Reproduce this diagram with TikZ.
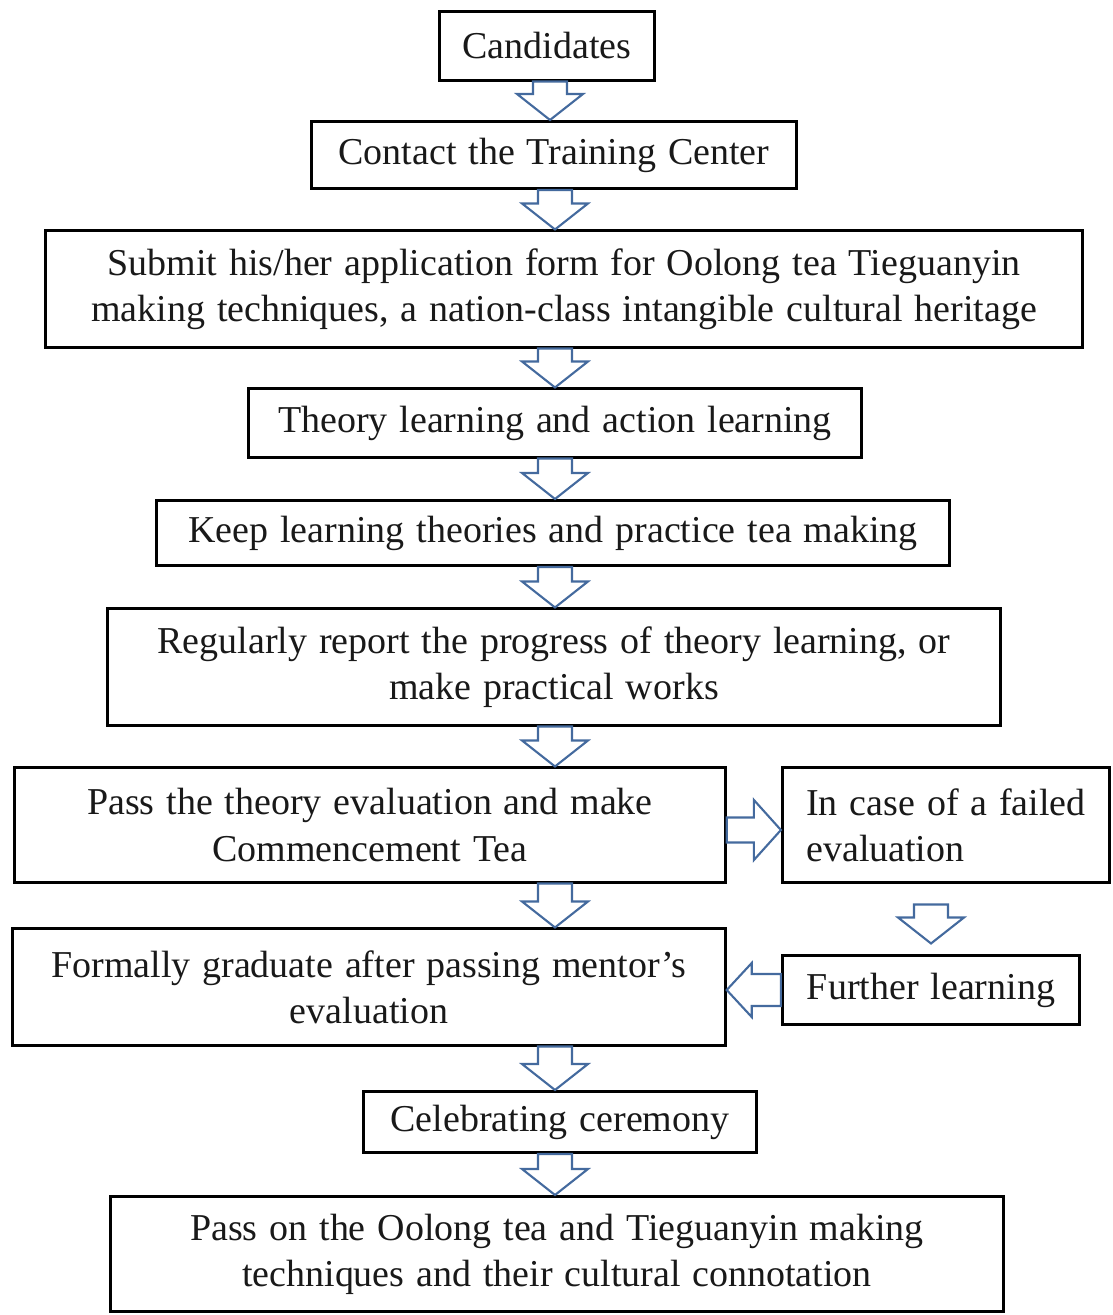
\documentclass[tikz,border=0pt]{standalone}
\usepackage{fontspec}
\setmainfont{Liberation Serif}[WordSpace=1.25]
\usetikzlibrary{calc}
\definecolor{arrowblue}{RGB}{68,106,158}
\definecolor{inkgray}{RGB}{25,25,25}
\tikzset{
  stage/.style={draw=black, line width=0.85pt, fill=white, align=center,
    inner sep=2pt, text=inkgray, font=\fontsize{10.8}{13.1}\selectfont},
  blockarrow/.style={draw=arrowblue, line width=0.6pt, fill=white, line join=miter}
}
% hollow block arrows between two points
\newcommand\blockdown[2]{%
  \draw[blockarrow] let \p1=(#1), \p2=(#2) in
    (\x1-0.17cm,\y1) -- (\x1+0.17cm,\y1) -- (\x1+0.17cm,\y2+0.26cm)
    -- (\x1+0.33cm,\y2+0.26cm) -- (\x1,\y2) -- (\x1-0.33cm,\y2+0.26cm)
    -- (\x1-0.17cm,\y2+0.26cm) -- cycle;}
\newcommand\blockright[2]{%
  \draw[blockarrow] let \p1=(#1), \p2=(#2) in
    (\x1,\y1+0.125cm) -- (\x2-0.27cm,\y1+0.125cm) -- (\x2-0.27cm,\y1+0.3cm)
    -- (\x2,\y1) -- (\x2-0.27cm,\y1-0.3cm) -- (\x2-0.27cm,\y1-0.125cm)
    -- (\x1,\y1-0.125cm) -- cycle;}
\newcommand\blockleft[2]{%
  \draw[blockarrow] let \p1=(#1), \p2=(#2) in
    (\x1,\y1+0.16cm) -- (\x2+0.25cm,\y1+0.16cm) -- (\x2+0.25cm,\y1+0.27cm)
    -- (\x2,\y1) -- (\x2+0.25cm,\y1-0.27cm) -- (\x2+0.25cm,\y1-0.16cm)
    -- (\x1,\y1-0.16cm) -- cycle;}
\begin{document}
\begin{tikzpicture}[x=0.01cm, y=-0.01cm]
\useasboundingbox (0,0) rectangle (1113,1315);
\coordinate (axis) at (555,0);

% Main chain
\node[stage, minimum width=2.15cm, minimum height=0.68cm] (cand) at (547,46) {Candidates};
\node[stage, minimum width=4.84cm, minimum height=0.67cm] (contact) at (554,155) {Contact the Training Center};
\node[stage, minimum width=10.36cm, minimum height=1.16cm] (submit) at (564,289)
  {Submit his/her application form for Oolong tea Tieguanyin\\making techniques, a nation-class intangible cultural heritage};
\node[stage, minimum width=6.12cm, minimum height=0.68cm] (theory) at (555,423) {Theory learning and action learning};
\node[stage, minimum width=7.93cm, minimum height=0.65cm] (keep) at (553,533) {Keep learning theories and practice tea making};
\node[stage, minimum width=8.92cm, minimum height=1.16cm] (report) at (554,667)
  {Regularly report the progress of theory learning, or\\make practical works};
\node[stage, minimum width=7.10cm, minimum height=1.14cm] (pass) at (370,825)
  {Pass the theory evaluation and make\\Commencement Tea};
\node[stage, minimum width=7.12cm, minimum height=1.16cm] (grad) at (369,987)
  {Formally graduate after passing mentor’s\\evaluation};
\node[stage, minimum width=3.92cm, minimum height=0.61cm] (celeb) at (560,1122) {Celebrating ceremony};
\node[stage, minimum width=8.93cm, minimum height=1.15cm] (inherit) at (557,1254)
  {Pass on the Oolong tea and Tieguanyin making\\techniques and their cultural connotation};

% Side loop
\node[stage, align=left, minimum width=3.27cm, minimum height=1.14cm] (fail) at (946,825)
  {In case of a failed\\evaluation};
\node[stage, minimum width=2.97cm, minimum height=0.68cm] (further) at (931,990) {Further learning};

% Arrows
\blockdown{$(cand.south -| axis)+(-5,0)$}{contact.north}
\blockdown{contact.south -| axis}{submit.north}
\blockdown{submit.south -| axis}{theory.north}
\blockdown{theory.south -| axis}{keep.north}
\blockdown{keep.south -| axis}{report.north}
\blockdown{report.south -| axis}{pass.north}
\blockdown{pass.south -| axis}{grad.north}
\blockdown{grad.south -| axis}{celeb.north}
\blockdown{celeb.south -| axis}{inherit.north}
\blockright{[yshift=-0.05cm]pass.east}{fail.west}
\blockdown{[yshift=-0.21cm]fail.south -| further.north}{[yshift=0.11cm]further.north}
\blockleft{further.west}{grad.east}

\end{tikzpicture}
\end{document}
